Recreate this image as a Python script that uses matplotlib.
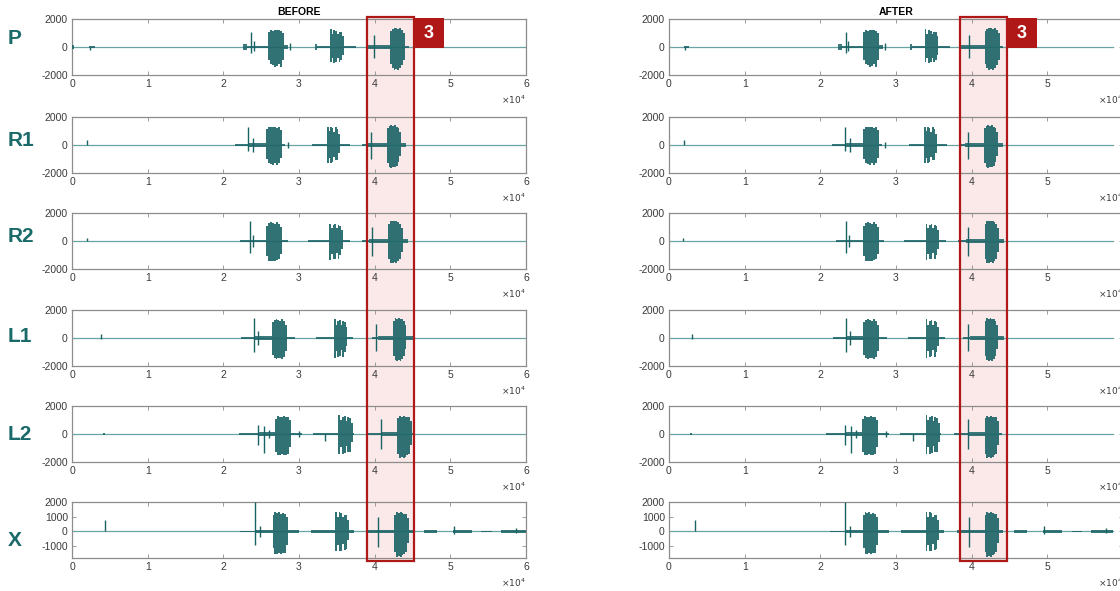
import numpy as np
import matplotlib
matplotlib.use("Agg")
import matplotlib.pyplot as plt
from matplotlib.patches import Rectangle

plt.rcParams['font.family'] = ['Liberation Sans', 'DejaVu Sans']
plt.rcParams['axes.unicode_minus'] = False  # matlab style "-2000"

# channel names (rows)
channels = ["P", "R1", "R2", "L1", "L2", "X"]

# signal lengths in samples (after alignment the tail is trimmed)
n_before = 60000
n_after = 58700

# lag found for each channel (samples), used to build the AFTER column
lags = {"P": 300, "R1": 0, "R2": 100, "L1": 700, "L2": 1300, "X": 900}

# bursts: (start, end, strip tops, strip bottoms)
# spikes: (x, top, bottom)   noise: (start, end, amp)
P_bursts = [(25900, 28000, [1100, 1200, 1150, 1250, 1200, 1200, 1150, 1000],
             [-900, -1200, -1300, -1400, -1350, -1200, -1400, -900]),
            (34100, 35900, [1250, 950, 1200, 1150, 900, 1100, 1050, 800],
             [-1100, -800, -1150, -1100, -750, -1050, -900, -600]),
            (42000, 44000, [1150, 1300, 1380, 1350, 1300, 1380, 1250, 1000],
             [-1200, -1500, -1650, -1600, -1650, -1500, -1300, -900])]
P_spikes = [(2400, 0, -200), (23700, 1100, -420), (24000, 400, -300), (28800, 300, -200), (39900, 850, -800)]
P_noise = [(0, 250, 130), (2300, 3000, 40), (22600, 23100, 220), (23100, 25900, 90), (28000, 28600, 120),
           (32100, 32400, 180), (32400, 34100, 60), (35900, 37500, 70), (38800, 39000, 150),
           (39000, 42000, 110), (44000, 44500, 80)]

R1_bursts = [(25600, 27700, [1150, 1300, 1250, 1300, 1300, 1250, 1300, 1050],
              [-1000, -1300, -1350, -1400, -1300, -1400, -1250, -900]),
             (33700, 35400, [1300, 1000, 1300, 1200, 950, 1250, 1150, 800],
              [-1300, -900, -1250, -1200, -850, -1100, -1100, -600]),
             (41600, 43500, [1200, 1350, 1400, 1350, 1400, 1300, 1250, 900],
              [-1300, -1600, -1650, -1600, -1550, -1500, -1200, -800])]
R1_spikes = [(2000, 350, 0), (23300, 1300, -420), (23900, 500, -500), (28500, 200, -200), (39500, 900, -1000)]
R1_noise = [(21500, 23300, 50), (23300, 25600, 110), (27700, 28200, 90), (31700, 33700, 70),
            (35400, 36800, 90), (38300, 39100, 60), (39100, 41600, 120), (43500, 44200, 120)]

R2_bursts = [(25700, 27800, [1100, 1300, 1330, 1300, 1250, 1330, 1250, 1000],
              [-1100, -1400, -1450, -1400, -1450, -1350, -1300, -900]),
             (34000, 35800, [1200, 900, 1150, 1200, 900, 1150, 1100, 800],
              [-1380, -900, -1300, -1250, -850, -1300, -1000, -600]),
             (41800, 43700, [1250, 1450, 1400, 1450, 1400, 1350, 1200, 900],
              [-1300, -1550, -1580, -1500, -1550, -1450, -1300, -800])]
R2_spikes = [(2000, 250, 0), (23500, 1450, -850), (23900, 400, -400), (39600, 970, -1100)]
R2_noise = [(22200, 23500, 60), (23500, 25700, 100), (27800, 28500, 90), (31200, 34000, 60),
            (35800, 36700, 90), (38300, 39300, 90), (39300, 41800, 120), (43700, 44400, 150)]

L1_bursts = [(26400, 28400, [1150, 1300, 1330, 1300, 1250, 1330, 1250, 950],
              [-1200, -1450, -1500, -1450, -1400, -1500, -1350, -900]),
             (34600, 36400, [1330, 950, 1250, 1300, 900, 1200, 1150, 800],
              [-1400, -900, -1350, -1300, -850, -1350, -1000, -600]),
             (42400, 44200, [1200, 1400, 1380, 1400, 1350, 1380, 1250, 900],
              [-1300, -1600, -1650, -1600, -1650, -1500, -1300, -800])]
L1_spikes = [(3800, 300, -100), (24100, 1400, -1000), (24600, 500, -500), (40200, 1000, -900)]
L1_noise = [(22400, 24100, 60), (24100, 26400, 120), (28400, 29500, 70), (32300, 34600, 60),
            (36400, 37200, 70), (39600, 40500, 90), (40500, 42400, 120), (44200, 45000, 120)]

L2_bursts = [(26800, 28900, [1100, 1270, 1250, 1200, 1270, 1250, 1200, 1000],
              [-1250, -1530, -1500, -1450, -1530, -1500, -1450, -900]),
             (35200, 37100, [1340, 1000, 1250, 1300, 950, 1200, 1150, 800],
              [-1440, -900, -1400, -1350, -850, -1300, -1300, -600]),
             (43000, 44900, [1150, 1270, 1250, 1270, 1250, 1200, 1200, 900],
              [-1400, -1720, -1650, -1700, -1650, -1500, -1400, -800])]
L2_spikes = [(24600, 670, -800), (25400, 550, -1350), (26000, 300, -300), (30000, 200, -200),
             (33500, 0, -500), (40800, 1080, -1050)]
L2_noise = [(4100, 4400, 100), (22100, 24600, 60), (24600, 26800, 120), (28900, 30400, 90),
            (31800, 35200, 70), (37100, 37300, 90), (38900, 40800, 90), (40800, 43000, 120),
            (44900, 45300, 90)]

X_bursts = [(26500, 28500, [1150, 1300, 1250, 1300, 1200, 1250, 1200, 950],
             [-1150, -1500, -1530, -1450, -1500, -1450, -1450, -900]),
            (34800, 36600, [1350, 1000, 1300, 1250, 950, 1150, 1100, 800],
             [-1350, -900, -1300, -1300, -850, -1250, -1200, -600]),
            (42600, 44500, [1150, 1300, 1250, 1300, 1250, 1200, 1200, 900],
             [-1400, -1700, -1650, -1700, -1600, -1500, -1400, -800])]
X_spikes = [(4300, 750, 0), (24200, 2000, -900), (24800, 400, -400), (40500, 950, -1020),
            (50500, 400, -150), (58700, 250, -100)]
X_noise = [(22200, 24200, 60), (24200, 26500, 120), (28500, 30000, 90), (31600, 34800, 70),
           (36600, 37300, 70), (38900, 40100, 90), (40100, 42600, 120), (44500, 45000, 90),
           (46500, 48200, 100), (50300, 52900, 110), (54100, 55500, 60), (56700, 60000, 80)]

bursts = {"P": P_bursts, "R1": R1_bursts, "R2": R2_bursts, "L1": L1_bursts, "L2": L2_bursts, "X": X_bursts}
spikes = {"P": P_spikes, "R1": R1_spikes, "R2": R2_spikes, "L1": L1_spikes, "L2": L2_spikes, "X": X_spikes}
noise = {"P": P_noise, "R1": R1_noise, "R2": R2_noise, "L1": L1_noise, "L2": L2_noise, "X": X_noise}

x_ticks = [0, 10000, 20000, 30000, 40000, 50000, 60000]
x_ticklabels = ["0", "1", "2", "3", "4", "5", "6"]

teal = "#1a6365"
base_teal = "#6aa3a3"
label_teal = "#1a6a6a"
spine_gray = "#8c8c8c"
red = "#b01818"

W, H = 1120, 591
fig = plt.figure(figsize=(W / 100, H / 100), dpi=100)

# pixel layout (top-left origin)
col_left = [72, 669]
col_width = 454
row_top = [19, 117, 213, 310, 406, 502]
row_h = 56
row_label_y = [39, 141, 237, 337, 435, 541]


def draw_channel(ax, name, shift, end):
    # baseline
    ax.plot([0, end], [0, 0], color=base_teal, lw=0.9, zorder=2)
    for (s, e, a) in noise[name]:
        s2, e2 = np.clip([s - shift, e - shift], 0, end)
        if e2 > s2:
            ax.bar(s2, 2 * a, width=e2 - s2, bottom=-a, align="edge", color=teal, alpha=0.85,
                   lw=0, zorder=3)
    for (s, e, tops, bots) in bursts[name]:
        edges = np.linspace(s, e, len(tops) + 1) - shift
        for i in range(len(tops)):
            s2, e2 = np.clip(edges[i:i + 2], 0, end)
            if e2 > s2:
                ax.bar(s2, tops[i] - bots[i], width=e2 - s2, bottom=bots[i], align="edge",
                       color=teal, alpha=0.9, lw=0, zorder=4)
    for (x, top, bot) in spikes[name]:
        x2 = x - shift
        if 0 <= x2 <= end:
            ax.vlines(x2, bot, top, color=teal, lw=1.0, zorder=4)


for c in range(2):
    for r, name in enumerate(channels):
        left = col_left[c] / W
        bottom = 1 - (row_top[r] + row_h) / H
        ax = fig.add_axes([left, bottom, col_width / W, row_h / H])
        ax.set_facecolor("none")
        if c == 0:
            draw_channel(ax, name, 0, n_before)
        else:
            draw_channel(ax, name, lags[name], n_after)
        ax.set_xlim(0, 60000)
        if name == "X":
            ax.set_ylim(-1800, 2000)
            ax.set_yticks([-1000, 0, 1000, 2000])
        else:
            ax.set_ylim(-2000, 2000)
            ax.set_yticks([-2000, 0, 2000])
        ax.set_xticks(x_ticks)
        ax.set_xticklabels(x_ticklabels)
        ax.tick_params(direction="in", length=3, width=0.6, colors=spine_gray, labelcolor="#3a3a3a",
                       labelsize=7.5, top=True, right=True, pad=3)
        for sp in ax.spines.values():
            sp.set_color(spine_gray)
            sp.set_linewidth(0.9)
        ax.text(1.0, -0.45, r"$\times10^{4}$", transform=ax.transAxes, ha="right", va="center",
                fontsize=6.5, color="#3a3a3a")
        if r == 0:
            ax.set_title(["BEFORE", "AFTER"][c], fontsize=7.5, fontweight="bold", pad=3)
        if c == 0:
            fig.text(8 / W, 1 - row_label_y[r] / H, name, fontsize=15, fontweight="bold",
                     color=label_teal, ha="left", va="center")

# highlighted window "3"
for rx in [367, 960]:
    fig.patches.append(Rectangle((rx / W, 1 - 561 / H), 47 / W, 544 / H, transform=fig.transFigure,
                                 facecolor="#fbe9e9", edgecolor="none", zorder=-1))
    fig.patches.append(Rectangle((rx / W, 1 - 561 / H), 47 / W, 544 / H, transform=fig.transFigure,
                                 facecolor="none", edgecolor=red, lw=1.6, zorder=5))
    fig.patches.append(Rectangle(((rx + 47) / W, 1 - 48 / H), 30 / W, 30 / H, transform=fig.transFigure,
                                 facecolor=red, edgecolor="none", zorder=5))
    fig.text((rx + 62) / W, 1 - 33 / H, "3", color="white", fontsize=13, fontweight="bold",
             ha="center", va="center", zorder=6)

fig.savefig("out.png", dpi=100)
